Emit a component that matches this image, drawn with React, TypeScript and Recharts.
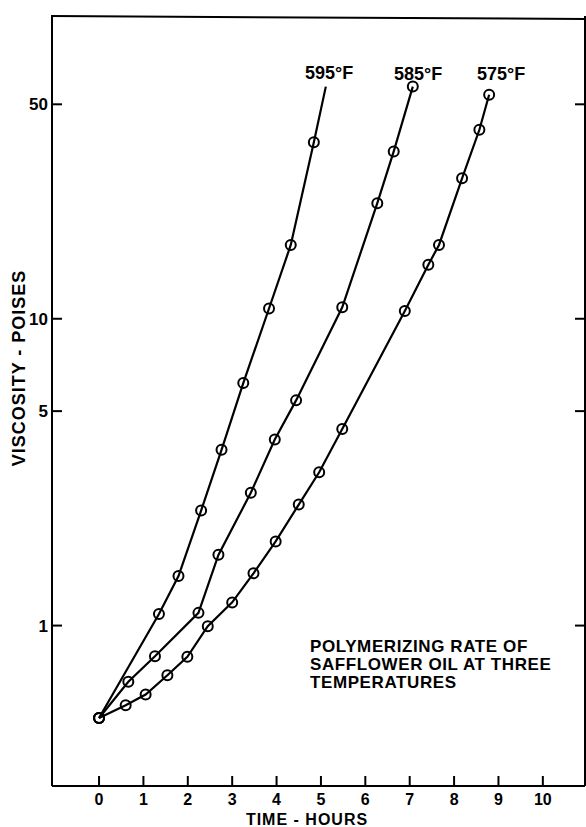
import React from 'react';
import { LineChart, Line, XAxis, YAxis } from 'recharts';

const W = 586;
const H = 827;
const FONT = '"Liberation Sans", Arial, Helvetica, sans-serif';

// time (hours) and viscosity (poises)
const hours595 = [0, 1.35, 1.79, 2.3, 2.76, 3.25, 3.83, 4.32, 4.84, 5.11];
const visc595 = [0.5, 1.09, 1.45, 2.37, 3.74, 6.17, 10.8, 17.4, 37.6, 57.1];
const plain595 = [9]; // line end with no circle

const hours585 = [0, 0.66, 1.26, 2.24, 2.69, 3.42, 3.96, 4.44, 5.48, 6.27, 6.64, 7.07];
const visc585 = [0.5, 0.656, 0.794, 1.1, 1.7, 2.71, 4.04, 5.42, 10.9, 23.8, 35.1, 57.1];
const plain585: number[] = [];

const hours575 = [0, 0.6, 1.05, 1.54, 1.99, 2.45, 3.0, 3.48, 3.98, 4.5, 4.96, 5.48, 6.89, 7.42, 7.66, 8.18, 8.57, 8.79];
const visc575 = [0.5, 0.55, 0.596, 0.689, 0.791, 0.995, 1.19, 1.48, 1.88, 2.48, 3.16, 4.37, 10.6, 15.0, 17.4, 28.7, 41.3, 53.7];
const plain575: number[] = [];

const xTicks = [0, 1, 2, 3, 4, 5, 6, 7, 8, 9, 10];
const yTicks = [1, 5, 10, 50];
const xDomain: [number, number] = [-1.06, 10.95];
const yDomain: [number, number] = [0.3, 97];

const seriesLabels = ['595°F', '585°F', '575°F'];
const noteLines = ['POLYMERIZING RATE OF', 'SAFFLOWER OIL AT THREE', 'TEMPERATURES'];
const xTitle = 'TIME - HOURS';
const yTitle = 'VISCOSITY - POISES';

const rows = (h: number[], v: number[], plain: number[]) =>
  h.map((t, i) => ({ t, v: v[i], plain: plain.includes(i) }));

const data595 = rows(hours595, visc595, plain595);
const data585 = rows(hours585, visc585, plain585);
const data575 = rows(hours575, visc575, plain575);

const Dot = (props: any) => {
  const { cx, cy, payload, index } = props;
  if (cx == null || cy == null || payload?.plain) return <g key={`d${index}`} />;
  return <circle key={`d${index}`} cx={cx} cy={cy} r={5} fill="none" stroke="#000" strokeWidth={2} />;
};

const XTick = (props: any) => {
  const { x, y, payload } = props;
  return (
    <g>
      <line x1={x} y1={y - 1} x2={x} y2={y - 10} stroke="#000" strokeWidth={2} />
      <text x={x} y={y + 19} textAnchor="middle" fontFamily={FONT} fontWeight="bold" fontSize={16} fill="#000">
        {payload.value}
      </text>
    </g>
  );
};

const YTickL = (props: any) => {
  const { x, y, payload } = props;
  return (
    <g>
      <line x1={x} y1={y} x2={x + 10} y2={y} stroke="#000" strokeWidth={2} />
      <text x={x - 4} y={y + 6} textAnchor="end" fontFamily={FONT} fontWeight="bold" fontSize={17} fill="#000">
        {payload.value}
      </text>
    </g>
  );
};

const YTickR = (props: any) => {
  const { x, y } = props;
  return <line x1={x} y1={y} x2={x - 10} y2={y} stroke="#000" strokeWidth={2} />;
};

export default function App() {
  const axisLine = { stroke: '#000', strokeWidth: 2 };
  return (
    <div style={{ position: 'absolute', left: 0, top: 0, width: W, height: H, background: '#fff' }}>
      <LineChart width={W} height={H} margin={{ top: 16, right: 0, bottom: 40, left: 0 }}>
        <XAxis
          dataKey="t"
          type="number"
          domain={xDomain}
          ticks={xTicks}
          interval={0}
          allowDataOverflow
          height={1}
          tickSize={0}
          tickMargin={0}
          tickLine={false}
          axisLine={axisLine}
          tick={<XTick />}
        />
        <YAxis
          yAxisId="l"
          dataKey="v"
          type="number"
          scale="log"
          domain={yDomain}
          ticks={yTicks}
          interval={0}
          allowDataOverflow
          width={52}
          tickSize={0}
          tickMargin={0}
          tickLine={false}
          axisLine={axisLine}
          tick={<YTickL />}
        />
        <YAxis
          yAxisId="r"
          orientation="right"
          dataKey="v"
          type="number"
          scale="log"
          domain={yDomain}
          ticks={yTicks}
          interval={0}
          allowDataOverflow
          width={1}
          tickSize={0}
          tickMargin={0}
          tickLine={false}
          axisLine={axisLine}
          tick={<YTickR />}
        />
        <Line data={data595} dataKey="v" yAxisId="l" type="linear" stroke="#000" strokeWidth={2.2} dot={Dot} isAnimationActive={false} />
        <Line data={data585} dataKey="v" yAxisId="l" type="linear" stroke="#000" strokeWidth={2.2} dot={Dot} isAnimationActive={false} />
        <Line data={data575} dataKey="v" yAxisId="l" type="linear" stroke="#000" strokeWidth={2.2} dot={Dot} isAnimationActive={false} />
        <Line data={data575} dataKey="v" yAxisId="r" stroke="none" dot={false} legendType="none" isAnimationActive={false} />
      </LineChart>
      <svg width={W} height={H} style={{ position: 'absolute', left: 0, top: 0, pointerEvents: 'none' }}>
        <line x1={51} y1={16} x2={586} y2={19} stroke="#000" strokeWidth={2} />
        <g fontFamily={FONT} fontWeight="bold" fill="#000">
          <text x={305} y={79} fontSize={18}>{seriesLabels[0]}</text>
          <text x={394} y={80} fontSize={18}>{seriesLabels[1]}</text>
          <text x={477} y={80} fontSize={18}>{seriesLabels[2]}</text>
          {noteLines.map((s, i) => (
            <text key={s} x={310} y={652 + i * 18} fontSize={17} letterSpacing={0.6}>{s}</text>
          ))}
          <text x={307} y={825} fontSize={16} textAnchor="middle" letterSpacing={1}>{xTitle}</text>
          <text transform="translate(25,368) rotate(-90)" fontSize={18} textAnchor="middle" letterSpacing={1}>{yTitle}</text>
        </g>
      </svg>
    </div>
  );
}
